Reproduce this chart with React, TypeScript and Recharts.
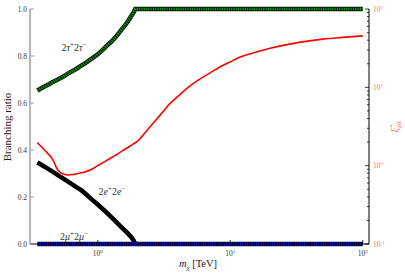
import React from 'react';
import { ComposedChart, Line, XAxis, YAxis } from 'recharts';

const masses = [0.35, 0.375, 0.4, 0.425, 0.45, 0.5, 0.55, 0.6, 0.65, 0.7, 0.75, 0.8, 0.9, 1.0, 1.1, 1.2, 1.3, 1.4, 1.5, 1.6, 1.7, 1.8, 1.86, 1.92, 2.0, 2.2, 2.5, 3, 3.5, 4, 5, 6, 7, 8.4, 10, 12, 16, 20, 30, 34, 50, 70, 100];
const tauBR = [0.653, 0.663, 0.671, 0.679, 0.687, 0.7, 0.713, 0.726, 0.737, 0.748, 0.759, 0.769, 0.789, 0.807, 0.828, 0.849, 0.867, 0.888, 0.91, 0.929, 0.95, 0.972, 0.985, 1.0, 1.0, 1.0, 1.0, 1.0, 1.0, 1.0, 1.0, 1.0, 1.0, 1.0, 1.0, 1.0, 1.0, 1.0, 1.0, 1.0, 1.0, 1.0, 1.0];
const eBR: (number | null)[] = [0.347, 0.337, 0.328, 0.319, 0.31, 0.293, 0.278, 0.264, 0.252, 0.24, 0.229, 0.216, 0.19, 0.168, 0.147, 0.127, 0.108, 0.09, 0.073, 0.058, 0.043, 0.028, 0.016, 0.0, null, null, null, null, null, null, null, null, null, null, null, null, null, null, null, null, null, null, null];
const muBR = masses.map(() => 0);
const xsec = [1.97, 1.74, 1.55, 1.4, 1.25, 0.88, 0.78, 0.76, 0.77, 0.79, 0.81, 0.83, 0.9, 1.0, 1.1, 1.2, 1.3, 1.4, 1.51, 1.62, 1.72, 1.83, 1.9, 1.96, 2.05, 2.47, 3.19, 4.55, 6.2, 7.6, 10.5, 13, 15.2, 18.3, 21.2, 24.5, 28.5, 31.5, 36.4, 37.8, 41.3, 43.4, 45.4];

const xMajor = [1, 10, 100];
const xMinor = [0.4, 0.5, 0.6, 0.7, 0.8, 0.9, 2, 3, 4, 5, 6, 7, 8, 9, 20, 30, 40, 50, 60, 70, 80, 90];
const leftTicks = [0, 0.2, 0.4, 0.6, 0.8, 1.0];
const rightMajor = [0.1, 1, 10, 100];
const rightMinor = [0.2, 0.3, 0.4, 0.5, 0.6, 0.7, 0.8, 0.9, 2, 3, 4, 5, 6, 7, 8, 9, 20, 30, 40, 50, 60, 70, 80, 90];

const data = masses.map((m, i) => ({ m, tau: tauBR[i], e: eBR[i], mu: muBR[i], xs: xsec[i] }));

const FONT = "'Liberation Serif', 'DejaVu Serif', serif";

const expOf = (v: number) => Math.round(Math.log10(v));

const BottomTick = (props: any) => {
  const { x, y, payload } = props;
  const major = xMajor.includes(payload.value);
  return (
    <g>
      <line x1={x} x2={x} y1={y} y2={y - (major ? 4 : 2)} stroke="#000" strokeWidth={0.8} />
      {major && (
        <text x={x} y={y + 12} textAnchor="middle" fontFamily={FONT} fontSize={7.5} fill="#333">
          <tspan>10</tspan>
          <tspan dy={-3} fontSize={5}>{expOf(payload.value)}</tspan>
        </text>
      )}
    </g>
  );
};

const TopTick = (props: any) => {
  const { x, y, payload } = props;
  const major = xMajor.includes(payload.value);
  return <line x1={x} x2={x} y1={y} y2={y + (major ? 4 : 2)} stroke="#888" strokeWidth={0.8} />;
};

const LeftTick = (props: any) => {
  const { x, y, payload } = props;
  return (
    <g>
      <line x1={x} x2={x + 4} y1={y} y2={y} stroke="#888" strokeWidth={0.8} />
      <text x={x - 3} y={y + 2.5} textAnchor="end" fontFamily={FONT} fontSize={7.5} fill="#333">
        {payload.value.toFixed(1)}
      </text>
    </g>
  );
};

const RightTick = (props: any) => {
  const { x, y, payload } = props;
  const major = rightMajor.includes(payload.value);
  return (
    <g>
      <line x1={x} x2={x - (major ? 4 : 2)} y1={y} y2={y} stroke="#000" strokeWidth={0.8} />
      {major && (
        <text x={x + 4} y={y + 2.5} textAnchor="start" fontFamily={FONT} fontSize={7.5} fill="#ff7070">
          <tspan>10</tspan>
          <tspan dy={-3} fontSize={5}>{expOf(payload.value)}</tspan>
        </text>
      )}
    </g>
  );
};

const Annot = ({ x, y, sym }: { x: number; y: number; sym: string }) => (
  <text x={x} y={y} textAnchor="middle" fontFamily={FONT} fontSize={10} fill="#333">
    <tspan>2</tspan><tspan fontStyle="italic">{sym}</tspan><tspan dy={-4} fontSize={7}>+</tspan>
    <tspan dy={4}>2</tspan><tspan fontStyle="italic">{sym}</tspan><tspan dy={-4} fontSize={7}>−</tspan>
  </text>
);

export default function App() {
  return (
    <div style={{ position: 'absolute', left: 0, top: 0, width: 405, height: 274, background: '#fff' }}>
      <ComposedChart width={405} height={274} data={data} margin={{ top: 9, right: 0, bottom: 0, left: 0 }}>
        <XAxis
          xAxisId="b"
          dataKey="m"
          type="number"
          scale="log"
          domain={[0.308, 111.5]}
          allowDataOverflow
          ticks={[...xMajor, ...xMinor]}
          tick={<BottomTick />}
          tickSize={0}
          tickMargin={0}
          tickLine={false}
          interval={0}
          height={30}
          axisLine={{ stroke: '#000', strokeWidth: 1 }}
        />
        <XAxis
          xAxisId="t"
          orientation="top"
          dataKey="m"
          type="number"
          scale="log"
          domain={[0.308, 111.5]}
          allowDataOverflow
          ticks={[...xMajor, ...xMinor]}
          tick={<TopTick />}
          tickSize={0}
          tickMargin={0}
          tickLine={false}
          interval={0}
          height={0}
          axisLine={{ stroke: '#888', strokeWidth: 1 }}
        />
        <YAxis
          yAxisId="l"
          type="number"
          domain={[0, 1]}
          ticks={leftTicks}
          tick={<LeftTick />}
          tickSize={0}
          tickMargin={0}
          tickLine={false}
          interval={0}
          width={30}
          axisLine={{ stroke: '#888', strokeWidth: 1.2 }}
        />
        <YAxis
          yAxisId="r"
          orientation="right"
          type="number"
          scale="log"
          domain={[0.1, 100]}
          allowDataOverflow
          ticks={[...rightMajor, ...rightMinor]}
          tick={<RightTick />}
          tickSize={0}
          tickMargin={0}
          tickLine={false}
          interval={0}
          width={36}
          axisLine={{ stroke: '#000', strokeWidth: 1 }}
        />
        <Line xAxisId="b" yAxisId="l" dataKey="tau" type="linear" stroke="#002000" strokeWidth={4.5} dot={false} isAnimationActive={false} />
        <Line xAxisId="b" yAxisId="l" dataKey="tau" type="linear" stroke="#1a8a1a" strokeWidth={2.6} strokeDasharray="1.3 1" dot={false} isAnimationActive={false} />
        <Line xAxisId="b" yAxisId="l" dataKey="e" type="linear" stroke="#000" strokeWidth={4.5} dot={false} isAnimationActive={false} />
        <Line xAxisId="b" yAxisId="r" dataKey="xs" type="monotone" stroke="#ff0000" strokeWidth={1.6} dot={false} isAnimationActive={false} />
        <Line xAxisId="b" yAxisId="l" dataKey="mu" type="linear" stroke="#000040" strokeWidth={4.5} dot={false} isAnimationActive={false} />
        <Line xAxisId="b" yAxisId="l" dataKey="mu" type="linear" stroke="#1428ff" strokeWidth={2.8} strokeDasharray="1.3 1" dot={false} isAnimationActive={false} />
      </ComposedChart>
      <svg width={405} height={274} style={{ position: 'absolute', left: 0, top: 0, pointerEvents: 'none' }}>
        <text x={8} y={127} transform="rotate(-90 8 127)" textAnchor="middle" dominantBaseline="middle" fontFamily={FONT} fontSize={11} fill="#222">
          Branching ratio
        </text>
        <text x={198} y={267} textAnchor="middle" fontFamily={FONT} fontSize={10.5} fill="#222">
          <tspan fontStyle="italic">m</tspan>
          <tspan dy={2.5} fontSize={7} fontStyle="italic">χ</tspan>
          <tspan dy={-2.5}> [TeV]</tspan>
        </text>
        <text x={396} y={127} transform="rotate(-90 396 127)" textAnchor="middle" dominantBaseline="middle" fontFamily={FONT} fontSize={10} fill="#ff7070">
          <tspan fontStyle="italic">ξ̃</tspan>
          <tspan dy={2.5} fontSize={7} fontStyle="italic">χd</tspan>
        </text>
        <Annot x={74} y={51} sym="τ" />
        <Annot x={112} y={195} sym="e" />
        <Annot x={74} y={240} sym="μ" />
      </svg>
    </div>
  );
}
